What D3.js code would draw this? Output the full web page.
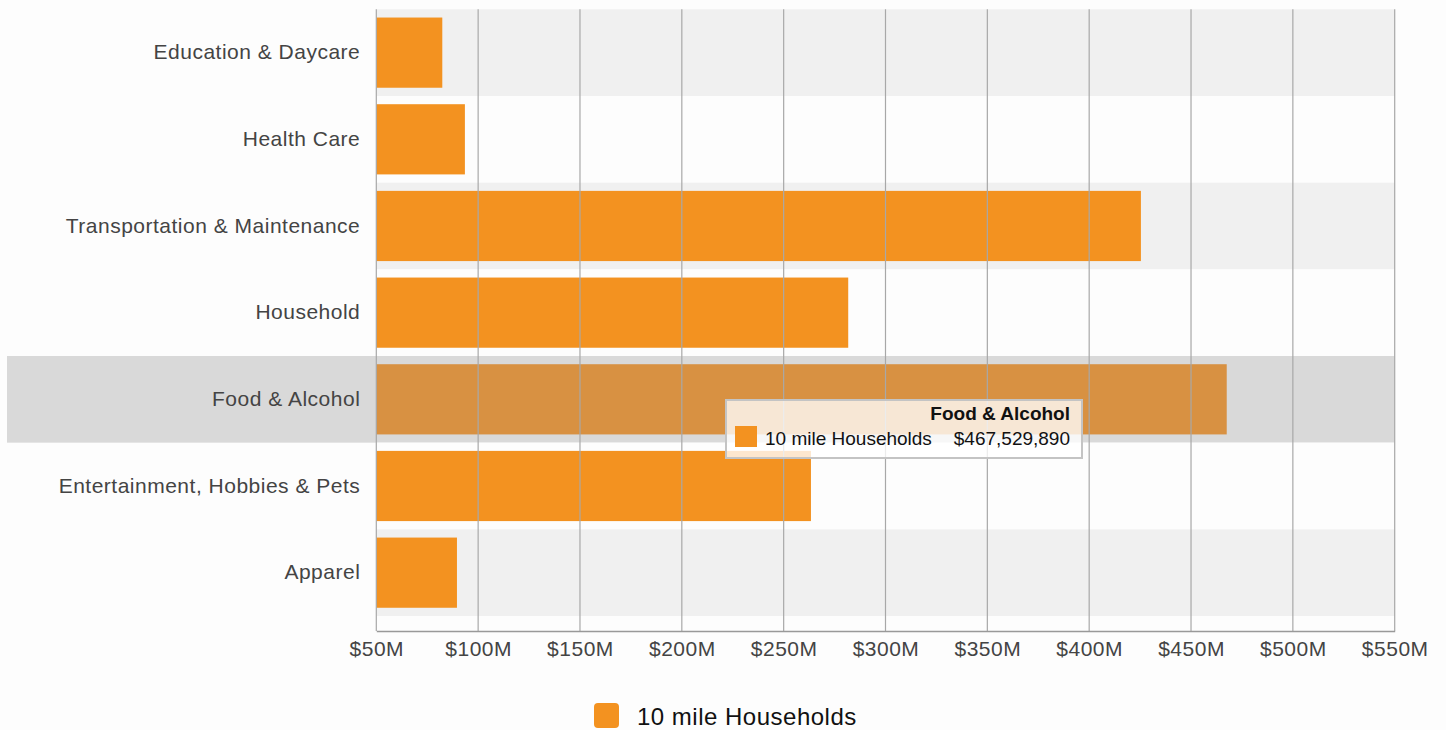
<!DOCTYPE html>
<html>
<head>
<meta charset="utf-8">
<script src="https://cdn.jsdelivr.net/npm/d3@7"></script>
<style>
  html, body { margin: 0; padding: 0; background: #fdfdfd; }
  svg { display: block; font-family: "Liberation Sans", Arial, Helvetica, sans-serif; }
</style>
</head>
<body>
<svg id="chart" width="1446" height="730"></svg>
<script>
const categories = ["Education & Daycare", "Health Care", "Transportation & Maintenance", "Household", "Food & Alcohol", "Entertainment, Hobbies & Pets", "Apparel"];
const values = [82400000, 93500000, 425400000, 281700000, 467529890, 263400000, 89600000];
const tickValues = [50e6, 100e6, 150e6, 200e6, 250e6, 300e6, 350e6, 400e6, 450e6, 500e6, 550e6];
const seriesName = "10 mile Households";
const highlighted = "Food & Alcohol";

(function () {
const svg = d3.select("#chart");
const pLeft = 376.3, pRight = 1394.7, pTop = 9.3, bandBottom = 616, axisY = 631;

const x = d3.scaleLinear().domain([50e6, 550e6]).range([pLeft, pRight]);
const y = d3.scaleBand().domain(categories).range([pTop, bandBottom]).padding(0);
const barPad = y.bandwidth() * 0.095;

// Row backgrounds
svg.append("g").selectAll("rect").data(categories).join("rect")
  .attr("x", d => d === highlighted ? 7 : pLeft)
  .attr("y", d => y(d))
  .attr("width", d => d === highlighted ? pRight - 7 : pRight - pLeft)
  .attr("height", y.bandwidth())
  .attr("fill", (d, i) => d === highlighted ? "#d9d9d9" : (i % 2 === 0 ? "#f0f0f0" : "#fdfdfd"));

// Bars
svg.append("g").selectAll("rect").data(categories).join("rect")
  .attr("x", x(50e6))
  .attr("y", d => y(d) + barPad)
  .attr("width", (d, i) => x(values[i]) - x(50e6))
  .attr("height", y.bandwidth() - 2 * barPad)
  .attr("fill", d => d === highlighted ? "#d89142" : "#f39220");

// Gridlines
svg.append("g").selectAll("line").data(tickValues).join("line")
  .attr("x1", d => x(d)).attr("x2", d => x(d))
  .attr("y1", pTop).attr("y2", axisY)
  .attr("stroke", "#a8a8a8").attr("stroke-width", 1.2);

// X axis
const xAxis = d3.axisBottom(x).tickValues(tickValues)
  .tickFormat(d => "$" + d / 1e6 + "M").tickSize(0).tickPadding(10);
const gx = svg.append("g").attr("transform", `translate(0,${axisY})`).call(xAxis);
gx.select(".domain").attr("stroke", "#999").attr("stroke-width", 1.5);
gx.selectAll("text").attr("font-size", 21).attr("letter-spacing", "0.5px").attr("fill", "#444")
  .attr("font-family", "'Liberation Sans', Arial, sans-serif");

// Y axis labels
const yAxis = d3.axisLeft(y).tickSize(0).tickPadding(16);
const gy = svg.append("g").attr("transform", `translate(${pLeft},0)`).call(yAxis);
gy.select(".domain").remove();
gy.selectAll("text").attr("font-size", 21).attr("letter-spacing", "0.5px").attr("fill", "#444")
  .attr("font-family", "'Liberation Sans', Arial, sans-serif");

// Tooltip
const hi = categories.indexOf(highlighted);
const tip = svg.append("g");
tip.append("rect").attr("x", 726).attr("y", 400).attr("width", 356).attr("height", 58)
  .attr("fill", "rgba(255,255,255,0.78)").attr("stroke", "#c4c4c4").attr("stroke-width", 2);
tip.append("text").attr("x", 1070).attr("y", 420).attr("text-anchor", "end")
  .attr("font-size", 19).attr("font-weight", "bold").attr("fill", "#111").text(highlighted);
tip.append("rect").attr("x", 735).attr("y", 426).attr("width", 22).attr("height", 21).attr("fill", "#f39220");
tip.append("text").attr("x", 765).attr("y", 444.5).attr("font-size", 19).attr("fill", "#111").text(seriesName);
tip.append("text").attr("x", 1070).attr("y", 444.5).attr("text-anchor", "end")
  .attr("font-size", 19).attr("fill", "#111").text("$" + d3.format(",")(values[hi]));

// Legend
const lg = svg.append("g");
lg.append("rect").attr("x", 594).attr("y", 703).attr("width", 25).attr("height", 25).attr("rx", 4)
  .attr("fill", "#f39220");
lg.append("text").attr("x", 637).attr("y", 725).attr("font-size", 24).attr("letter-spacing", "0.5px")
  .attr("fill", "#111").text(seriesName);
})();
</script>
</body>
</html>
